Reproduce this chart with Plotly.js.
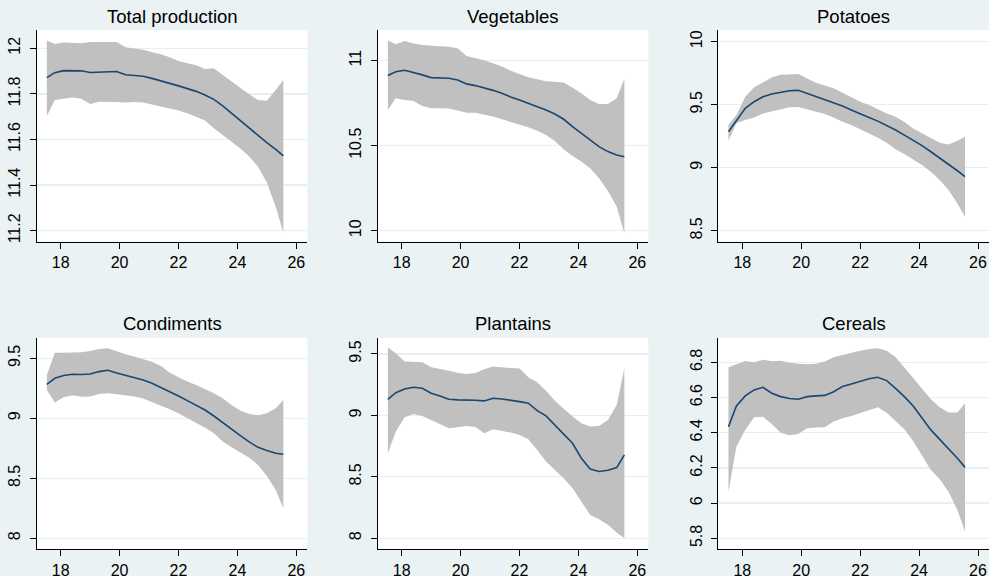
<!DOCTYPE html>
<html>
<head>
<meta charset="utf-8">
<script src="https://cdn.plot.ly/plotly-3.0.1.min.js"></script>
<style>html,body{margin:0;padding:0;background:#eaf2f3;}#chart{width:989px;height:576px;}</style>
</head>
<body>
<div id="chart"></div>
<script>
// ---------- data ----------
const age = [17.53, 17.8, 18.1, 18.4, 18.7, 19.0, 19.3, 19.6, 19.9, 20.2, 20.5, 20.8, 21.1, 21.4, 21.7, 22.0, 22.3, 22.6, 22.9, 23.2, 23.5, 23.8, 24.1, 24.4, 24.7, 25.0, 25.3, 25.56];

const panelTitles = ["Total production", "Vegetables", "Potatoes", "Condiments", "Plantains", "Cereals"];

const totalMean  = [11.871, 11.893, 11.902, 11.902, 11.901, 11.894, 11.896, 11.898, 11.898, 11.884, 11.880, 11.877, 11.868, 11.858, 11.846, 11.835, 11.823, 11.811, 11.795, 11.776, 11.747, 11.715, 11.683, 11.649, 11.615, 11.586, 11.557, 11.528];
const totalUpper = [12.034, 12.019, 12.025, 12.022, 12.022, 12.027, 12.028, 12.027, 12.027, 12.004, 11.997, 11.993, 11.982, 11.974, 11.961, 11.944, 11.934, 11.925, 11.909, 11.912, 11.883, 11.854, 11.825, 11.798, 11.773, 11.770, 11.817, 11.861];
const totalLower = [11.703, 11.773, 11.779, 11.784, 11.779, 11.756, 11.766, 11.766, 11.764, 11.762, 11.764, 11.762, 11.754, 11.744, 11.737, 11.727, 11.715, 11.700, 11.683, 11.649, 11.620, 11.590, 11.561, 11.525, 11.481, 11.411, 11.305, 11.191];

const vegMean  = [10.912, 10.935, 10.943, 10.931, 10.916, 10.900, 10.900, 10.896, 10.886, 10.863, 10.853, 10.841, 10.825, 10.808, 10.786, 10.769, 10.749, 10.731, 10.710, 10.686, 10.655, 10.612, 10.573, 10.533, 10.494, 10.465, 10.445, 10.435];
const vegUpper = [11.118, 11.096, 11.115, 11.100, 11.092, 11.086, 11.084, 11.082, 11.073, 11.027, 11.014, 11.002, 10.984, 10.965, 10.941, 10.922, 10.902, 10.890, 10.878, 10.876, 10.871, 10.841, 10.808, 10.769, 10.745, 10.745, 10.778, 10.892];
const vegLower = [10.710, 10.778, 10.769, 10.763, 10.733, 10.720, 10.720, 10.718, 10.706, 10.694, 10.694, 10.684, 10.671, 10.655, 10.639, 10.625, 10.608, 10.588, 10.563, 10.527, 10.478, 10.439, 10.406, 10.367, 10.308, 10.235, 10.141, 9.984];

const potMean  = [9.286, 9.378, 9.471, 9.524, 9.563, 9.585, 9.601, 9.611, 9.614, 9.590, 9.563, 9.542, 9.519, 9.489, 9.458, 9.426, 9.399, 9.370, 9.336, 9.299, 9.259, 9.220, 9.175, 9.127, 9.079, 9.029, 8.976, 8.929];
const potUpper = [9.339, 9.418, 9.563, 9.638, 9.677, 9.717, 9.738, 9.743, 9.743, 9.709, 9.675, 9.653, 9.630, 9.595, 9.558, 9.524, 9.497, 9.463, 9.431, 9.405, 9.362, 9.312, 9.272, 9.233, 9.198, 9.185, 9.214, 9.246];
const potLower = [9.214, 9.352, 9.378, 9.399, 9.431, 9.447, 9.458, 9.479, 9.481, 9.463, 9.444, 9.426, 9.399, 9.365, 9.339, 9.307, 9.272, 9.238, 9.198, 9.146, 9.108, 9.066, 9.021, 8.968, 8.902, 8.823, 8.717, 8.611];

const condMean  = [9.283, 9.333, 9.356, 9.367, 9.365, 9.369, 9.389, 9.400, 9.378, 9.358, 9.342, 9.319, 9.292, 9.258, 9.222, 9.186, 9.147, 9.111, 9.069, 9.019, 8.967, 8.911, 8.856, 8.803, 8.758, 8.731, 8.708, 8.700];
const condUpper = [9.361, 9.547, 9.547, 9.547, 9.550, 9.561, 9.578, 9.583, 9.556, 9.533, 9.514, 9.494, 9.472, 9.436, 9.381, 9.342, 9.306, 9.278, 9.244, 9.208, 9.167, 9.111, 9.064, 9.036, 9.025, 9.042, 9.083, 9.153];
const condLower = [9.236, 9.131, 9.175, 9.192, 9.180, 9.181, 9.203, 9.208, 9.200, 9.192, 9.181, 9.164, 9.136, 9.108, 9.075, 9.042, 9.003, 8.964, 8.922, 8.875, 8.806, 8.758, 8.717, 8.672, 8.611, 8.519, 8.403, 8.250];

const plantMean  = [9.131, 9.185, 9.215, 9.229, 9.221, 9.180, 9.158, 9.131, 9.126, 9.126, 9.123, 9.118, 9.139, 9.134, 9.126, 9.112, 9.099, 9.039, 8.996, 8.922, 8.849, 8.773, 8.651, 8.564, 8.543, 8.554, 8.575, 8.678];
const plantUpper = [9.552, 9.505, 9.438, 9.432, 9.432, 9.392, 9.375, 9.364, 9.348, 9.337, 9.345, 9.375, 9.397, 9.392, 9.386, 9.381, 9.310, 9.270, 9.200, 9.120, 9.055, 8.990, 8.936, 8.909, 8.914, 8.963, 9.085, 9.383];
const plantLower = [8.692, 8.868, 8.985, 9.012, 8.996, 8.963, 8.930, 8.895, 8.903, 8.914, 8.905, 8.855, 8.887, 8.876, 8.860, 8.841, 8.806, 8.719, 8.624, 8.556, 8.488, 8.407, 8.298, 8.190, 8.155, 8.109, 8.046, 8.000];

const cerMean  = [6.434, 6.552, 6.609, 6.643, 6.658, 6.624, 6.605, 6.594, 6.590, 6.605, 6.609, 6.612, 6.633, 6.662, 6.677, 6.694, 6.707, 6.715, 6.696, 6.652, 6.605, 6.552, 6.482, 6.416, 6.362, 6.311, 6.255, 6.203];
const cerUpper = [6.772, 6.791, 6.808, 6.800, 6.815, 6.806, 6.809, 6.798, 6.791, 6.789, 6.791, 6.804, 6.828, 6.842, 6.855, 6.866, 6.876, 6.880, 6.866, 6.830, 6.770, 6.710, 6.645, 6.590, 6.545, 6.515, 6.515, 6.567];
const cerLower = [6.065, 6.321, 6.416, 6.488, 6.490, 6.450, 6.400, 6.385, 6.393, 6.425, 6.429, 6.431, 6.463, 6.482, 6.495, 6.510, 6.529, 6.544, 6.514, 6.469, 6.419, 6.351, 6.270, 6.188, 6.135, 6.065, 5.961, 5.838];

const xTicks = [18, 20, 22, 24, 26];
const yTicks1 = [11.2, 11.4, 11.6, 11.8, 12];
const yTicks2 = [10, 10.5, 11];
const yTicks3 = [8.5, 9, 9.5, 10];
const yTicks4 = [8, 8.5, 9, 9.5];
const yTicks5 = [8, 8.5, 9, 9.5];
const yTicks6 = [5.8, 6, 6.2, 6.4, 6.6, 6.8];

// ---------- build ----------
const panels = [
  {mean: totalMean, up: totalUpper, lo: totalLower, ticks: yTicks1, yr: [11.152, 12.080]},
  {mean: vegMean,   up: vegUpper,   lo: vegLower,   ticks: yTicks2, yr: [9.935, 11.180]},
  {mean: potMean,   up: potUpper,   lo: potLower,   ticks: yTicks3, yr: [8.413, 10.093]},
  {mean: condMean,  up: condUpper,  lo: condLower,  ticks: yTicks4, yr: [7.908, 9.669]},
  {mean: plantMean, up: plantUpper, lo: plantLower, ticks: yTicks5, yr: [7.910, 9.630]},
  {mean: cerMean,   up: cerUpper,   lo: cerLower,   ticks: yTicks6, yr: [5.7375, 6.938]}
];

const W = 989, H = 576;
const colPx = [[36.7, 307.3], [377.7, 648.3], [718.3, 989]];
const rowPx = [[30, 241.7], [338, 549.3]];

const FONT = "Liberation Sans, Arial, Helvetica, sans-serif";
const traces = [];
const layout = {
  width: W, height: H,
  margin: {l: 0, r: 0, t: 0, b: 0},
  paper_bgcolor: "#eaf2f3",
  plot_bgcolor: "#ffffff",
  showlegend: false,
  font: {family: FONT, color: "#000000"},
  annotations: []
};

panels.forEach((p, i) => {
  const n = i + 1;
  const xa = n === 1 ? "x" : "x" + n;
  const ya = n === 1 ? "y" : "y" + n;
  const col = i % 3, row = Math.floor(i / 3);
  traces.push({x: age, y: p.lo, xaxis: xa, yaxis: ya, type: "scatter", mode: "lines",
    line: {width: 0, color: "rgba(0,0,0,0)"}, hoverinfo: "skip"});
  traces.push({x: age, y: p.up, xaxis: xa, yaxis: ya, type: "scatter", mode: "lines",
    fill: "tonexty", fillcolor: "#c0c0c0", line: {width: 0, color: "rgba(0,0,0,0)"}, hoverinfo: "skip"});
  traces.push({x: age, y: p.mean, xaxis: xa, yaxis: ya, type: "scatter", mode: "lines",
    line: {width: 1.6, color: "#1a476f"}});

  const xd = [colPx[col][0] / W, Math.min(1, colPx[col][1] / W)];
  const yd = [1 - rowPx[row][1] / H, 1 - rowPx[row][0] / H];
  layout["xaxis" + (n === 1 ? "" : n)] = {
    domain: xd, anchor: ya, range: [17.185, 26.373],
    tickvals: xTicks, ticktext: xTicks.map(String),
    showgrid: false, zeroline: false, showline: true, linecolor: "#000000", linewidth: 1,
    ticks: "outside", ticklen: 6, tickwidth: 1, tickcolor: "#000000",
    tickfont: {family: FONT, size: 16, color: "#000000"}, fixedrange: true
  };
  layout["yaxis" + (n === 1 ? "" : n)] = {
    domain: yd, anchor: xa, range: p.yr,
    tickvals: p.ticks, ticktext: p.ticks.map(String),
    showgrid: true, gridcolor: "#e6eff1", gridwidth: 1.3,
    zeroline: false, showline: true, linecolor: "#000000", linewidth: 1,
    ticks: "outside", ticklen: 6, tickwidth: 1, tickcolor: "#000000",
    tickangle: -90, ticklabelstandoff: 3,
    tickfont: {family: FONT, size: 16, color: "#000000"}, fixedrange: true
  };
  layout.annotations.push({
    text: panelTitles[i], xref: "paper", yref: "paper",
    x: (xd[0] + xd[1]) / 2, y: row === 0 ? 1 - 16.3 / H : 1 - 323.3 / H,
    xanchor: "center", yanchor: "middle", showarrow: false,
    font: {family: FONT, size: 18.5, color: "#000000"}
  });
});

Plotly.newPlot("chart", traces, layout, {displayModeBar: false, staticPlot: true});
</script>
</body>
</html>
